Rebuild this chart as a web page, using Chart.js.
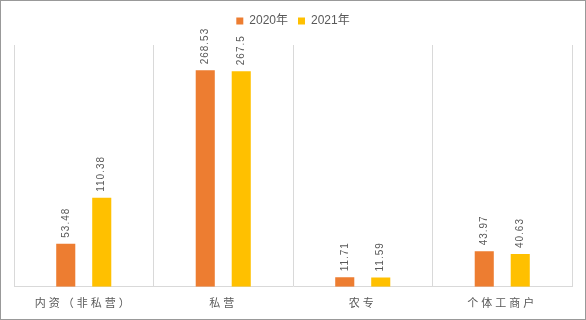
<!DOCTYPE html>
<html>
<head>
<meta charset="utf-8">
<script src="https://cdn.jsdelivr.net/npm/chart.js@4"></script>
<style>
  body { margin: 0; background: #fff; }
  #wrap { width: 586px; height: 320px; position: relative; }
</style>
</head>
<body>
<div id="wrap"><canvas id="myChart"></canvas></div>
<script>
const categories = ["内资（非私营）", "私营", "农专", "个体工商户"];
const seriesNames = ["2020年", "2021年"];
const values2020 = [53.48, 268.53, 11.71, 43.97];
const values2021 = [110.38, 267.5, 11.59, 40.63];

const textColor = "#595959";

// value labels above bars, rotated like the original
const barLabels = {
  id: "barLabels",
  afterDatasetsDraw(chart) {
    const c = chart.ctx;
    chart.data.datasets.forEach((ds, i) => {
      chart.getDatasetMeta(i).data.forEach((bar, j) => {
        c.save();
        c.translate(bar.x, bar.y - 6);
        c.rotate(-Math.PI / 2);
        c.font = "10px 'Liberation Sans'";
        c.letterSpacing = "1px";
        c.fillStyle = textColor;
        c.textAlign = "left";
        c.textBaseline = "middle";
        c.fillText(String(ds.data[j]), 0, 0);
        c.restore();
      });
    });
  },
};

// outer frame, legend gap, spaced category labels
const frame = {
  id: "frame",
  beforeInit(chart) {
    const fit = chart.legend.fit;
    chart.legend.fit = function () {
      fit.bind(this)();
      this.height += 8;
    };
  },
  beforeDraw(chart) {
    const x = chart.scales.x;
    if (!x._spaced) {
      const orig = x.drawLabels;
      x.drawLabels = function (area) {
        this.ctx.save();
        this.ctx.letterSpacing = "3px";
        orig.call(this, area);
        this.ctx.restore();
      };
      x._spaced = true;
    }
  },
  afterDraw(chart) {
    const c = chart.ctx;
    c.save();
    c.strokeStyle = "#999";
    c.lineWidth = 1;
    c.strokeRect(0.5, 0.5, chart.width - 1, chart.height - 1);
    c.restore();
  },
};

new Chart(document.getElementById("myChart"), {
  type: "bar",
  data: {
    labels: categories,
    datasets: [
      {
        label: seriesNames[0],
        data: values2020,
        backgroundColor: "#ED7D31",
        categoryPercentage: 0.516,
        barPercentage: 0.53,
      },
      {
        label: seriesNames[1],
        data: values2021,
        backgroundColor: "#FFC000",
        categoryPercentage: 0.516,
        barPercentage: 0.53,
      },
    ],
  },
  options: {
    responsive: true,
    maintainAspectRatio: false,
    animation: false,
    layout: { padding: { top: 5, left: 14, right: 14, bottom: 2 } },
    plugins: {
      tooltip: { enabled: false },
      legend: {
        position: "top",
        labels: {
          boxWidth: 7,
          boxHeight: 7,
          padding: 10,
          color: textColor,
          font: { size: 12, family: "'Liberation Sans', 'Noto Sans CJK SC'" },
        },
      },
    },
    scales: {
      x: {
        grid: { color: "#d9d9d9", drawTicks: false, offset: true },
        border: { color: "#d9d9d9" },
        ticks: {
          padding: 9,
          color: textColor,
          font: { size: 11, family: "'Noto Sans CJK SC'" },
        },
      },
      y: {
        display: false,
        min: 0,
        max: 300,
      },
    },
  },
  plugins: [barLabels, frame],
});
</script>
</body>
</html>
